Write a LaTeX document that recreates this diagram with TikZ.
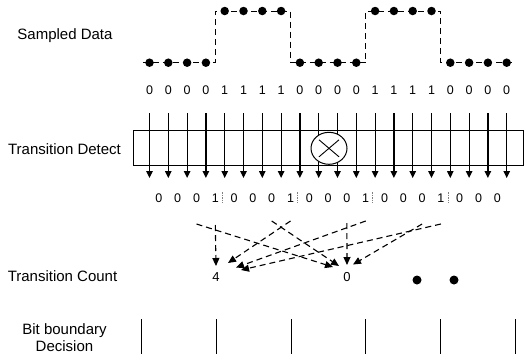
\documentclass[tikz,border=0pt]{standalone}
\usepackage{fontspec}
\setmainfont{Liberation Sans}
\usetikzlibrary{arrows.meta,shapes.geometric}
\begin{document}
\begin{tikzpicture}[x=1pt,y=-1pt,
  rowlabel/.style={font=\fontsize{15}{17}\selectfont, align=center, inner sep=0pt},
  digit/.style={font=\fontsize{12.5}{14}\selectfont, inner sep=0pt},
  sample/.style={circle, fill=black, inner sep=0pt, minimum size=8.5pt},
  steptrace/.style={line width=1pt, dash pattern=on 6pt off 4pt},
  flow/.style={line width=1.2pt, -{Triangle[length=7pt,width=6.5pt]}},
  vote/.style={line width=1.1pt, dash pattern=on 6pt off 4pt, -{Triangle[length=8pt,width=7pt]}},
  boundary/.style={line width=1pt},
  sep/.style={line width=0.7pt, gray, dash pattern=on 1.5pt off 1pt},
]
\useasboundingbox[fill=white] (0,0) rectangle (524,354);

% row captions
\node[rowlabel] (lsd) at (65,36) {Sampled Data};
\node[rowlabel] (ltd) at (64.5,149) {Transition Detect};
\node[rowlabel] (ltc) at (62.5,276) {Transition Count};
\node[rowlabel] (lbb) at (64.5,338) {Bit boundary\\Decision};

% sampled waveform (dashed step trace)
\draw[steptrace] (142.9,62.7) -| (215.3,11) -| (290.5,62.7) -| (365.7,11) -| (440.9,62.7) -- (513.3,62.7);

% transition detector block
\node[draw, line width=1pt, minimum width=390, minimum height=34.3, inner sep=0pt] (td) at (328,147.85) {};

% samples, bit values and detector inputs
\foreach \b [count=\k from 0] in {0,0,0,0,1,1,1,1,0,0,0,0,1,1,1,1,0,0,0,0} {
  \pgfmathsetmacro\xx{149.5+18.8*\k}
  \pgfmathsetmacro\yy{\b==1 ? 11 : 62.7}
  \node[sample] (s\k) at (\xx,\yy) {};
  \node[digit] (b\k) at (\xx,90) {\b};
  \coordinate (a\k) at (\xx,113);
  \coordinate (z\k) at (\xx,178);
  \draw[flow] (a\k) -- (z\k);
}

% XOR element
\node[draw, ellipse, fill=white, line width=1pt, minimum width=36, minimum height=32, inner sep=0pt] (xor) at (329,148.3) {};
\draw[line width=0.9pt] ([shift={(-10,-8.5)}]xor.center) -- ([shift={(10,8.5)}]xor.center);
\draw[line width=0.9pt] ([shift={(-10,8.5)}]xor.center) -- ([shift={(10,-8.5)}]xor.center);

% detected transitions
\foreach \t [count=\j from 0] in {0,0,0,1,0,0,0,1,0,0,0,1,0,0,0,1,0,0,0} {
  \pgfmathsetmacro\xx{158.9+18.8*\j}
  \node[digit] (t\j) at (\xx,198) {\t};
}
\foreach \j in {3,7,11,15} {
  \draw[sep] ([shift={(7,-6)}]t\j.center) -- ([shift={(7,5)}]t\j.center);
}

% transition counters
\node[digit, font=\fontsize{13}{15}\selectfont] (c4) at (216,277) {4};
\node[digit, font=\fontsize{13}{15}\selectfont] (c0) at (347,277) {0};
\node[sample, minimum size=9pt] (d1) at (417,280) {};
\node[sample, minimum size=9pt] (d2) at (454,280) {};

% window taps feeding the counters
\coordinate (p3) at (215.3,225);
\coordinate (p7) at (290.5,221);
\coordinate (p11) at (365.7,221);
\coordinate (p15) at (440.9,224);
\coordinate (q2) at (196.5,224);
\coordinate (q6) at (271.7,221);
\coordinate (q10) at (346.9,223);
\coordinate (q14) at (422.1,224);
\coordinate (e3) at (216,266);
\coordinate (e7) at (228,263);
\coordinate (e11) at (236,267.5);
\coordinate (e15) at (241,270);
\coordinate (f2) at (333,267);
\coordinate (f6) at (339,266);
\coordinate (f10) at (347,265);
\coordinate (f14) at (353,264.5);
\draw[vote] (p3) -- (e3);
\draw[vote] (p7) -- (e7);
\draw[vote] (p11) -- (e11);
\draw[vote] (p15) -- (e15);
\draw[vote] (q2) -- (f2);
\draw[vote] (q6) -- (f6);
\draw[vote] (q10) -- (f10);
\draw[vote] (q14) -- (f14);

% bit boundary decisions
\foreach \x [count=\i] in {141,216,291,365,440,515} {
  \coordinate (bt\i) at (\x,319);
  \coordinate (bb\i) at (\x,354);
  \draw[boundary] (bt\i) -- (bb\i);
}
\end{tikzpicture}
\end{document}
